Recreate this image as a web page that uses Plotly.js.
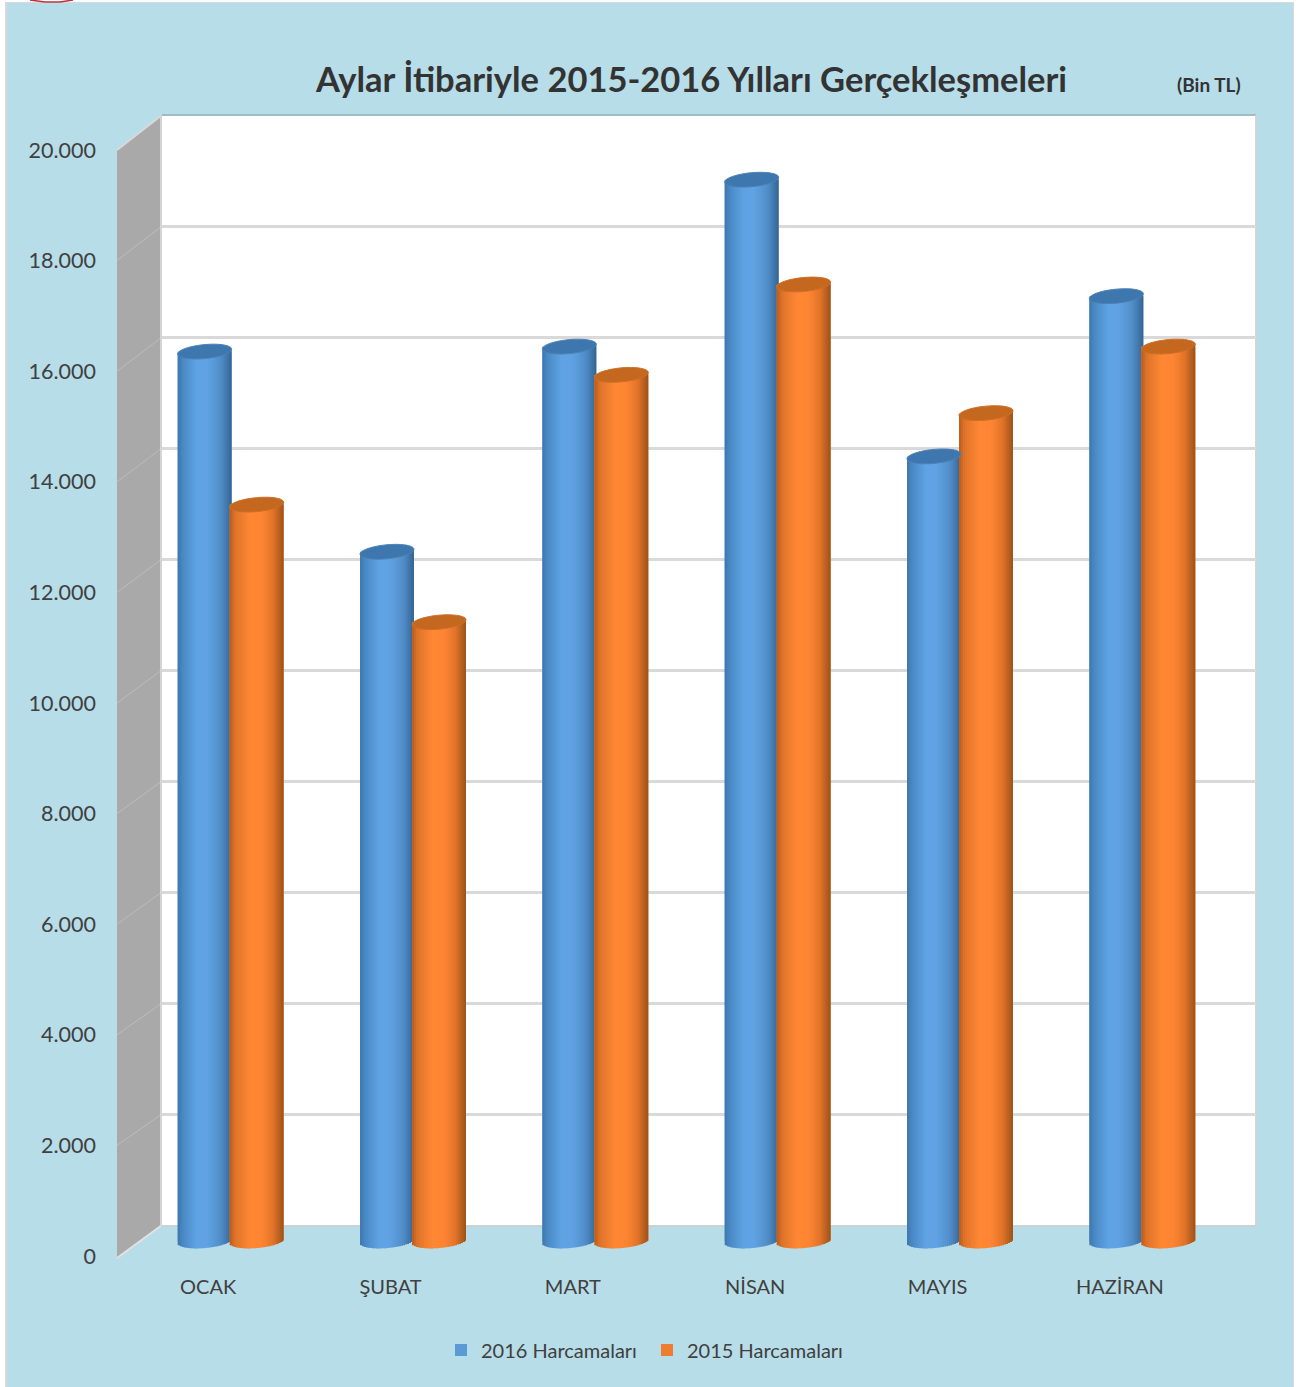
<!DOCTYPE html>
<html><head><meta charset="utf-8">
<script src="https://cdn.plot.ly/plotly-3.0.1.min.js"></script>
<style>html,body{margin:0;padding:0;background:#fff}#c{width:1303px;height:1387px}</style>
</head><body><div id="c"></div>
<script>
const categories = ['OCAK','ŞUBAT','MART','NİSAN','MAYIS','HAZİRAN'];
const harcama2016 = [16040,12430,16130,19140,14150,17040];
const harcama2015 = [13280,11160,15620,17250,14930,16130];
const yTickVals = [0,2000,4000,6000,8000,10000,12000,14000,16000,18000,20000];

const W=1303,H=1387;
const px=x=>x/W, py=y=>1-y/H;
const UNIT=1109/20000;          // px per value on the cylinder plane
const BAR=0.296, OFF=0.1426, STRIPS=27, CAP_H=7/UNIT, TILT=2.4/UNIT;

const blueStops=[[0,'#3f76ac'],[.1,'#4a89c5'],[.35,'#5fa3e4'],[.55,'#60a2e2'],[.8,'#508dc8'],[.94,'#3e72a5'],[1,'#36648f']];
const orangeStops=[[0,'#b95c1b'],[.1,'#de742a'],[.38,'#ff8734'],[.6,'#fd8533'],[.8,'#e27429'],[.94,'#b35d20'],[1,'#9b5119']];
function mix(st,t){
  for(let i=1;i<st.length;i++){ if(t<=st[i][0]){
    const a=st[i-1],b=st[i],f=(t-a[0])/(b[0]-a[0]);
    const c=k=>Math.round(parseInt(a[1].substr(k,2),16)*(1-f)+parseInt(b[1].substr(k,2),16)*f);
    return `rgb(${c(1)},${c(3)},${c(5)})`;
  }}
  return st[st.length-1][1];
}
function series(vals,name,off,legendColor,stops){
  const out=[{type:'bar',name:name,x:categories,y:vals,xaxis:'x2',yaxis:'y2',offset:off-BAR/2,width:BAR,
    marker:{color:legendColor,line:{width:0}},hoverinfo:'name+y+x'}];
  const w=BAR/STRIPS;
  for(let s=0;s<STRIPS;s++){
    const t=(s+.5)/STRIPS, u=2*t-1;
    const b=-CAP_H*Math.sqrt(1-u*u)+TILT*u;
    out.push({type:'bar',showlegend:false,hoverinfo:'skip',x:categories,
      y:vals.map(v=>v+TILT*u-b),base:vals.map(()=>b),xaxis:'x2',yaxis:'y2',
      offset:off-BAR/2+s*w,width:s<STRIPS-1?w*1.5:w,
      marker:{color:mix(stops,t),line:{width:0}}});
  }
  return out;
}
function cap(i,val,off,fill,edge){
  const pts=[];
  for(let k=0;k<48;k++){
    const a=k/48*2*Math.PI;
    pts.push((i+off+BAR/2*Math.cos(a)).toFixed(4)+','+(val+CAP_H*Math.sin(a)+TILT*Math.cos(a)).toFixed(1));
  }
  return {type:'path',xref:'x2',yref:'y2',layer:'above',path:'M'+pts.join('L')+'Z',fillcolor:fill,line:{color:edge,width:1}};
}
const placeholderBack={type:'scatter',mode:'none',x:categories,y:harcama2016,xaxis:'x',yaxis:'y',showlegend:false,hoverinfo:'skip'};
const placeholderFront={type:'scatter',mode:'none',x:categories,y:harcama2015,xaxis:'x3',yaxis:'y3',showlegend:false,hoverinfo:'skip'};
const traces=[placeholderBack,
  ...series(harcama2016,'2016 Harcamaları',-OFF,'#5B9BD5',blueStops),
  ...series(harcama2015,'2015 Harcamaları',OFF,'#ED7D31',orangeStops),
  placeholderFront];

const paperRect=(x0,y0,x1,y1,fill)=>({type:'rect',xref:'paper',yref:'paper',layer:'below',x0:px(x0),x1:px(x1),y0:py(y0),y1:py(y1),fillcolor:fill,line:{width:0}});
const paperLine=(x0,y0,x1,y1,c,w)=>({type:'line',xref:'paper',yref:'paper',layer:'below',x0:px(x0),x1:px(x1),y0:py(y0),y1:py(y1),line:{color:c,width:w}});
const frontY=v=>1256-v*(1106/20000), backY=v=>1225-v*(1110/20000);
const poly=pts=>'M'+pts.map(p=>px(p[0]).toFixed(5)+','+py(p[1]).toFixed(5)).join('L')+'Z';
const shapes=[
  paperRect(5,2,1294,1387,'#d9d9d9'),
  paperRect(7,3,1293,1387,'#B7DDE8'),
  {type:'path',xref:'paper',yref:'paper',layer:'below',path:poly([[117,150],[162,115],[162,1225],[117,1258]]),fillcolor:'#a9a9a9',line:{width:0}},
  paperRect(162,115,1256,1225,'#ffffff'),
  ...yTickVals.slice(1,-1).map(v=>paperLine(117,frontY(v),162,backY(v),'#bcbcbc',1)),
  paperLine(117,150,162,115,'#d9d9d9',2),
  paperLine(117,1258,162,1225,'#e2e2e2',2),
  paperLine(161,115,161,1225,'#d4d4d4',2),
  paperLine(162,115,1256,115,'#9fbcc4',2),
  paperLine(1256,115,1256,1226,'#cfd6d8',2),
  paperLine(161,1226,1257,1226,'#c9d2d5',2),
  paperLine(30,0,45,2,'#c0303a',1.5),paperLine(45,2,60,2,'#c0303a',1.5),paperLine(60,2,73,0,'#c0303a',1.5),
  ...harcama2016.map((v,i)=>cap(i,v,-OFF,'#3e76ae','#4a82b8')),
  ...harcama2015.map((v,i)=>cap(i,v,OFF,'#c4671f','#cf6f25'))
];
const hidden={showgrid:false,zeroline:false,showticklabels:false,ticks:'',showline:false,fixedrange:true};
const cat={type:'category',categoryorder:'array',categoryarray:categories,range:[-.5,5.5]};
const layout={
  width:W,height:H,margin:{l:0,r:0,t:0,b:0,pad:0},autosize:false,
  paper_bgcolor:'#ffffff',plot_bgcolor:'rgba(0,0,0,0)',
  barmode:'overlay',separators:',.',
  font:{family:'Lato, sans-serif',color:'#404040'},
  title:{text:'Aylar İtibariyle 2015-2016 Yılları Gerçekleşmeleri',x:691.5/W,xanchor:'center',y:py(80),yanchor:'middle',
    font:{family:'Lato, sans-serif',size:34.5,weight:700,color:'#333333'}},
  xaxis:{...hidden,...cat,domain:[px(162),px(1256)],anchor:'y'},
  yaxis:{...hidden,range:[0,20000],dtick:2000,showgrid:true,gridcolor:'#d9d9d9',gridwidth:2.5,domain:[py(1225),py(115)],anchor:'x'},
  xaxis2:{...hidden,...cat,domain:[px(139.5),px(1233.5)],anchor:'y2'},
  yaxis2:{...hidden,range:[-(1255-1241)/UNIT,20000],domain:[py(1255),py(132)],anchor:'x2'},
  xaxis3:{...hidden,...cat,showticklabels:true,side:'bottom',domain:[px(117),px(1211)],anchor:'y3',
    tickfont:{family:'Lato, sans-serif',size:20,color:'#404040'},ticklabelstandoff:17,tickangle:0},
  yaxis3:{...hidden,showticklabels:true,side:'left',range:[0,20000],tickmode:'array',tickvals:yTickVals,tickformat:',d',
    domain:[py(1256),py(150)],anchor:'x3',tickfont:{family:'Lato, sans-serif',size:21.5,color:'#404040'},ticklabelstandoff:20},
  shapes:shapes,
  annotations:[{text:'<b>(Bin TL)</b>',xref:'paper',yref:'paper',x:px(1209),y:py(84),xanchor:'center',yanchor:'middle',showarrow:false,
    font:{family:'Lato, sans-serif',size:19,color:'#333333'}}],
  showlegend:true,
  legend:{orientation:'h',x:px(441),xanchor:'left',y:py(1350),yanchor:'middle',bgcolor:'rgba(0,0,0,0)',entrywidth:161,entrywidthmode:'pixels',
    traceorder:'normal',font:{family:'Lato, sans-serif',size:20,color:'#404040'}}
};
Plotly.newPlot('c',traces,layout,{displayModeBar:false,staticPlot:false});
</script></body></html>
